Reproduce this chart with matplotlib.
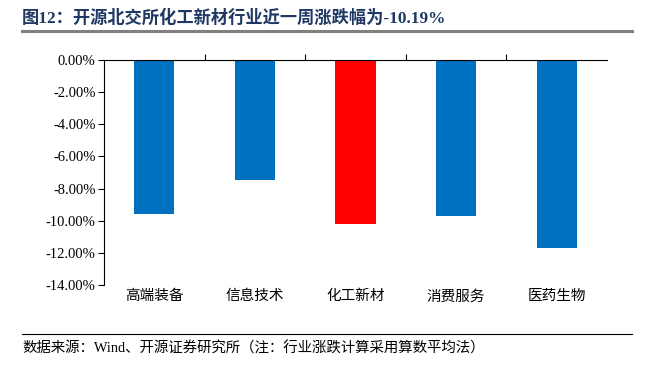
import matplotlib.pyplot as plt
from matplotlib.lines import Line2D
from matplotlib.ticker import FixedLocator, FuncFormatter

# data
categories = ["高端装备", "信息技术", "化工新材", "消费服务", "医药生物"]
changes = [-9.58, -7.47, -10.19, -9.71, -11.70]
highlight = "化工新材"

title_text = "图12：开源北交所化工新材行业近一周涨跌幅为-10.19%"
source_text = "数据来源：Wind、开源证券研究所（注：行业涨跌计算采用算数平均法）"

FONTS = ["Liberation Serif", "Noto Sans CJK SC"]
plt.rcParams["font.family"] = FONTS

W, H = 645, 365
fig = plt.figure(figsize=(W / 100, H / 100), dpi=100)

ax = fig.add_axes([104 / W, 1 - 285 / H, (607 - 104) / W, (285 - 60) / H])

colors = ["#FF0000" if c == highlight else "#0070C0" for c in categories]
x = list(range(len(categories)))
ax.bar(x, changes, width=0.4, color=colors, zorder=2)

ax.set_xlim(-0.5, len(categories) - 0.5)
ax.set_ylim(-14, 0)
ax.set_yticks([-14, -12, -10, -8, -6, -4, -2, 0])
ax.yaxis.set_major_formatter(FuncFormatter(lambda v, p: f"{v:.2f}%"))
ax.tick_params(axis="y", labelsize=10.5, length=4, width=0.8, direction="out", pad=2)

# x axis line sits at zero (top); labels go under the plot
ax.spines["top"].set_visible(True)
ax.spines["bottom"].set_visible(False)
ax.spines["right"].set_visible(False)
ax.spines["top"].set_linewidth(0.8)
ax.spines["left"].set_linewidth(0.8)
ax.xaxis.set_ticks_position("top")
ax.xaxis.set_major_locator(FixedLocator([i + 0.5 for i in x[:-1]]))
ax.tick_params(axis="x", which="major", length=4, width=0.8, direction="out",
               labeltop=False, labelbottom=False)
for i, c in enumerate(categories):
    ax.text(i, -14.3, c, ha="center", va="top", fontsize=10.5)

fig.text(22 / W, 1 - 18 / H, title_text, fontsize=12.4, fontweight="bold",
         color="#1F3864", va="center", ha="left")
fig.add_artist(Line2D([22 / W, 632 / W], [1 - 31 / H, 1 - 31 / H],
                      color="#808080", linewidth=2.2, transform=fig.transFigure))
fig.add_artist(Line2D([22 / W, 632 / W], [1 - 334 / H, 1 - 334 / H],
                      color="black", linewidth=0.8, transform=fig.transFigure))
fig.text(22 / W, 1 - 348 / H, source_text, fontsize=10.4, va="center", ha="left")

fig.savefig("out.png", dpi=100)
